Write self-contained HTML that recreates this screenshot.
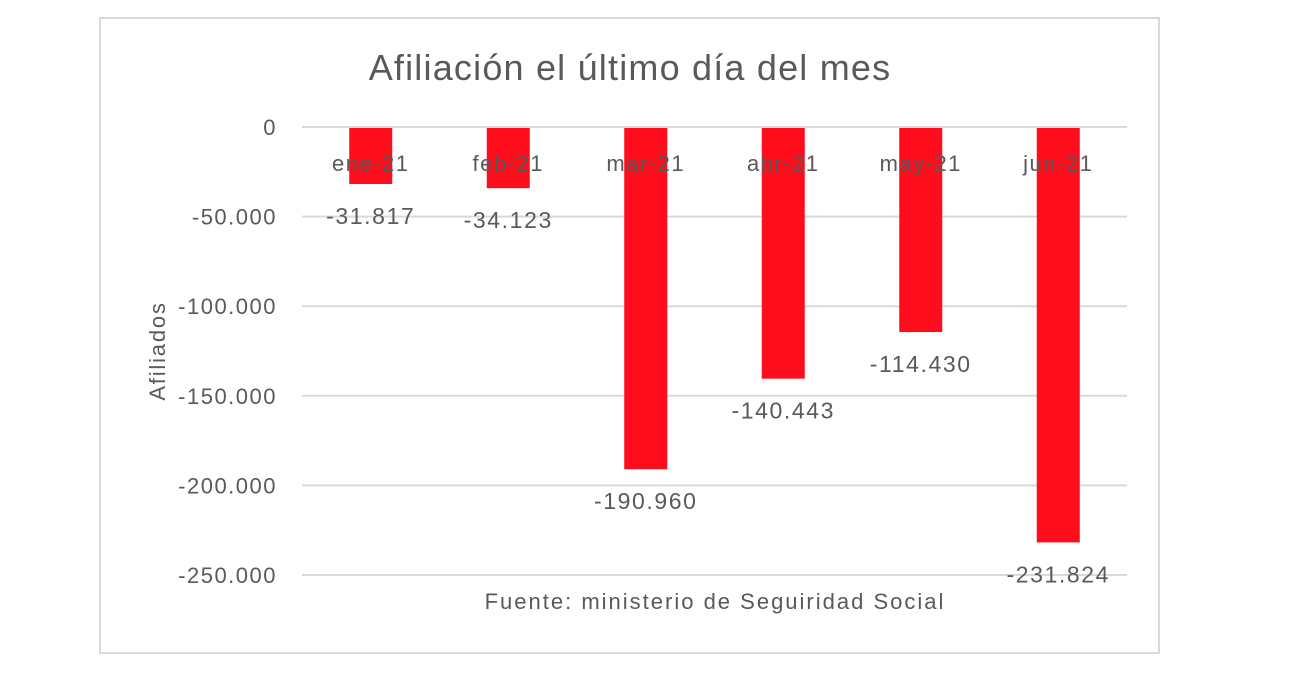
<!DOCTYPE html>
<html><head><meta charset="utf-8"><style>
body{margin:0;background:#fff;}
svg text{font-family:"Liberation Sans",sans-serif;fill:#595959;}
</style></head><body>
<svg id="c" width="1306" height="678" xmlns="http://www.w3.org/2000/svg">
<rect x="100" y="18" width="1059" height="635" fill="#fff" stroke="#d9d9d9" stroke-width="2"/>
<text x="630" y="80" font-size="36" letter-spacing="1.2" text-anchor="middle">Afiliación el último día del mes</text>
<text transform="translate(165,351) rotate(-90)" font-size="22" letter-spacing="1.8" text-anchor="middle">Afiliados</text>
<text x="715" y="609" font-size="22" letter-spacing="2" text-anchor="middle">Fuente: ministerio de Seguiridad Social</text>
<g id="grid"></g><g id="bars"></g><g id="labels"></g>
</svg>
<script>
const categories=["ene-21","feb-21","mar-21","abr-21","may-21","jun-21"];
const values=[-31817,-34123,-190960,-140443,-114430,-231824];
const valueLabels=["-31.817","-34.123","-190.960","-140.443","-114.430","-231.824"];
const ticks=[0,-50000,-100000,-150000,-200000,-250000];
const tickLabels=["0","-50.000","-100.000","-150.000","-200.000","-250.000"];
const NS="http://www.w3.org/2000/svg";
const x0=302,x1=1127,y0=127,yMin=575;
const y=v=>y0+(v/-250000)*(yMin-y0);
const band=(x1-x0)/categories.length;
const xc=i=>x0+band*(i+0.5);
function mk(t,a,p){const e=document.createElementNS(NS,t);for(const k in a)e.setAttribute(k,a[k]);p.appendChild(e);return e;}
const g=document.getElementById('grid'),b=document.getElementById('bars'),l=document.getElementById('labels');
ticks.forEach((t,i)=>{
 const ln=mk('line',{x1:x0,x2:x1,y1:y(t),y2:y(t),stroke:'#d9d9d9','stroke-width':2},g);
 
 
 const tx=mk('text',{x:277,y:y(t)+8,'font-size':22,'letter-spacing':1.5,'text-anchor':'end'},g);
 tx.textContent=tickLabels[i];
 
 
});
values.forEach((v,i)=>{
 const r=mk('rect',{x:xc(i)-21.5,y:y(0)+1,width:43,height:y(v)-y(0)-1,fill:'#fe0d1c'},b);
 
 
 const c=mk('text',{x:xc(i),y:171,'font-size':22,'letter-spacing':1.5,'text-anchor':'middle'},l);
 c.textContent=categories[i];
 
 
 const vl=mk('text',{x:xc(i),y:y(v)+40,'font-size':23,'letter-spacing':1.6,'text-anchor':'middle'},l);
 vl.textContent=valueLabels[i];
 
 
});
</script>
</body></html>
